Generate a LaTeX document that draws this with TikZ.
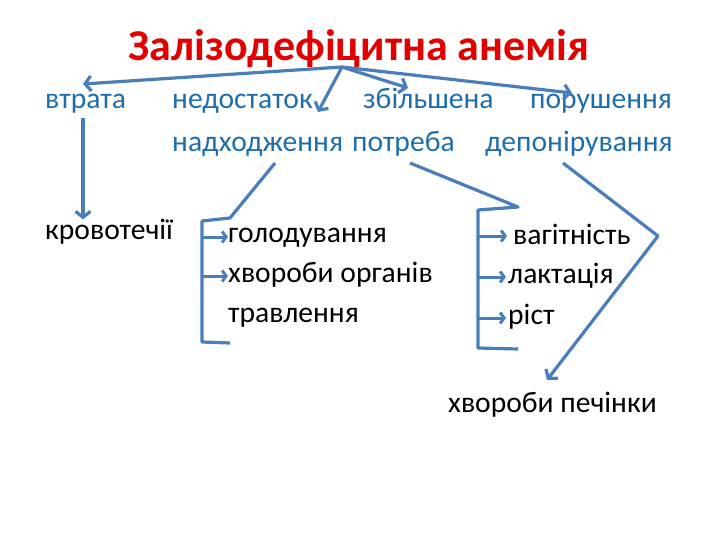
\documentclass[tikz,border=0pt]{standalone}
\usepackage{fontspec}
\setmainfont{Carlito}
\usetikzlibrary{arrows.meta}
\definecolor{titlered}{RGB}{226,0,0}
\definecolor{causeblue}{RGB}{31,110,172}
\definecolor{linkblue}{RGB}{74,126,187}
\tikzstyle{heading} = [font=\fontsize{44}{52}\selectfont\bfseries, text=titlered, inner sep=0pt, anchor=base]
\tikzstyle{cause} = [font=\fontsize{29.6}{36}\selectfont, text=causeblue, inner sep=0pt, anchor=base west]
\tikzstyle{item} = [font=\fontsize{29.6}{36}\selectfont, text=black, inner sep=0pt, anchor=base west]
\tikzstyle{link} = [draw=linkblue, line width=3.2pt, line join=round, -{Straight Barb[length=6pt,width=15pt]}]
\tikzstyle{tick} = [draw=linkblue, line width=3pt, -{Straight Barb[length=4pt,width=11pt]}]
\tikzstyle{bracket} = [draw=linkblue, line width=3.2pt, line join=round]

\begin{document}
\begin{tikzpicture}[x=1pt, y=-1pt]
    \useasboundingbox (0,0) rectangle (720,540);
    % heading and the four causes
    \node[heading] (title) at (359,61) {Залізодефіцитна анемія};
    \node[cause] (loss) at (45,109) {втрата};
    \node[cause] (lack) at (172,109) {недостаток};
    \node[cause] (need) at (363,109) {збільшена};
    \node[cause] (store) at (530,109) {порушення};
    \node[cause] (lack2) at (172,152) {надходження};
    \node[cause] (need2) at (352,152) {потреба};
    \node[cause] (store2) at (485,152) {депонірування};
    % what lies behind them
    \node[item] (bleed) at (45,240) {кровотечії};
    \node[item] (hunger) at (228,242) {голодування};
    \node[item] (gut) at (228,282) {хвороби органів};
    \node[item] (gut2) at (228,322) {травлення};
    \node[item] (preg) at (513,244) {вагітність};
    \node[item] (lact) at (508,283) {лактація};
    \node[item] (grow) at (508,324) {ріст};
    \node[item] (liver) at (448,412) {хвороби печінки};

    \coordinate (root) at (342,67);
    \coordinate (toloss) at (83,84);
    \coordinate (tolack) at (318,112);
    \coordinate (toneed) at (408,88);
    \coordinate (tostore) at (572,93);
    \draw[link] (root) -- (toloss);
    \draw[link] (root) -- (tolack);
    \draw[link] (root) -- (toneed);
    \draw[link] (root) -- (tostore);

    \coordinate (lossout) at (83,118);
    \draw[link] (lossout) -- (bleed.north west -| lossout);

    % bracket under "надходження"
    \coordinate (lackout) at (275,163);
    \coordinate (lacktop) at (230,218);
    \coordinate (lackbot) at (230,343);
    \draw[bracket] (lackout) -- (lacktop) -- (202,221) -- (202,342) -- (lackbot);
    \draw[tick] (202,237) -- (hunger.west |- 0,237);
    \draw[tick] (202,276) -- (gut.west |- 0,276);

    % bracket under "потреба"
    \coordinate (needout) at (410,163);
    \coordinate (needtop) at (518,207);
    \coordinate (needbot) at (518,349);
    \draw[bracket] (needout) -- (needtop) -- (478,210) -- (478,348) -- (needbot);
    \draw[tick] (478,236) -- ([xshift=-6pt]preg.west |- 0,236);
    \draw[tick] (478,277) -- ([xshift=-2pt]lact.west |- 0,277);
    \draw[tick] (478,318) -- ([xshift=-2pt]grow.west |- 0,318);

    % "депонірування" to the liver
    \coordinate (storeout) at (563,163);
    \coordinate (storebend) at (658,236);
    \coordinate (toliver) at (547,380);
    \draw[link] (storeout) -- (storebend) -- (toliver);
\end{tikzpicture}
\end{document}
